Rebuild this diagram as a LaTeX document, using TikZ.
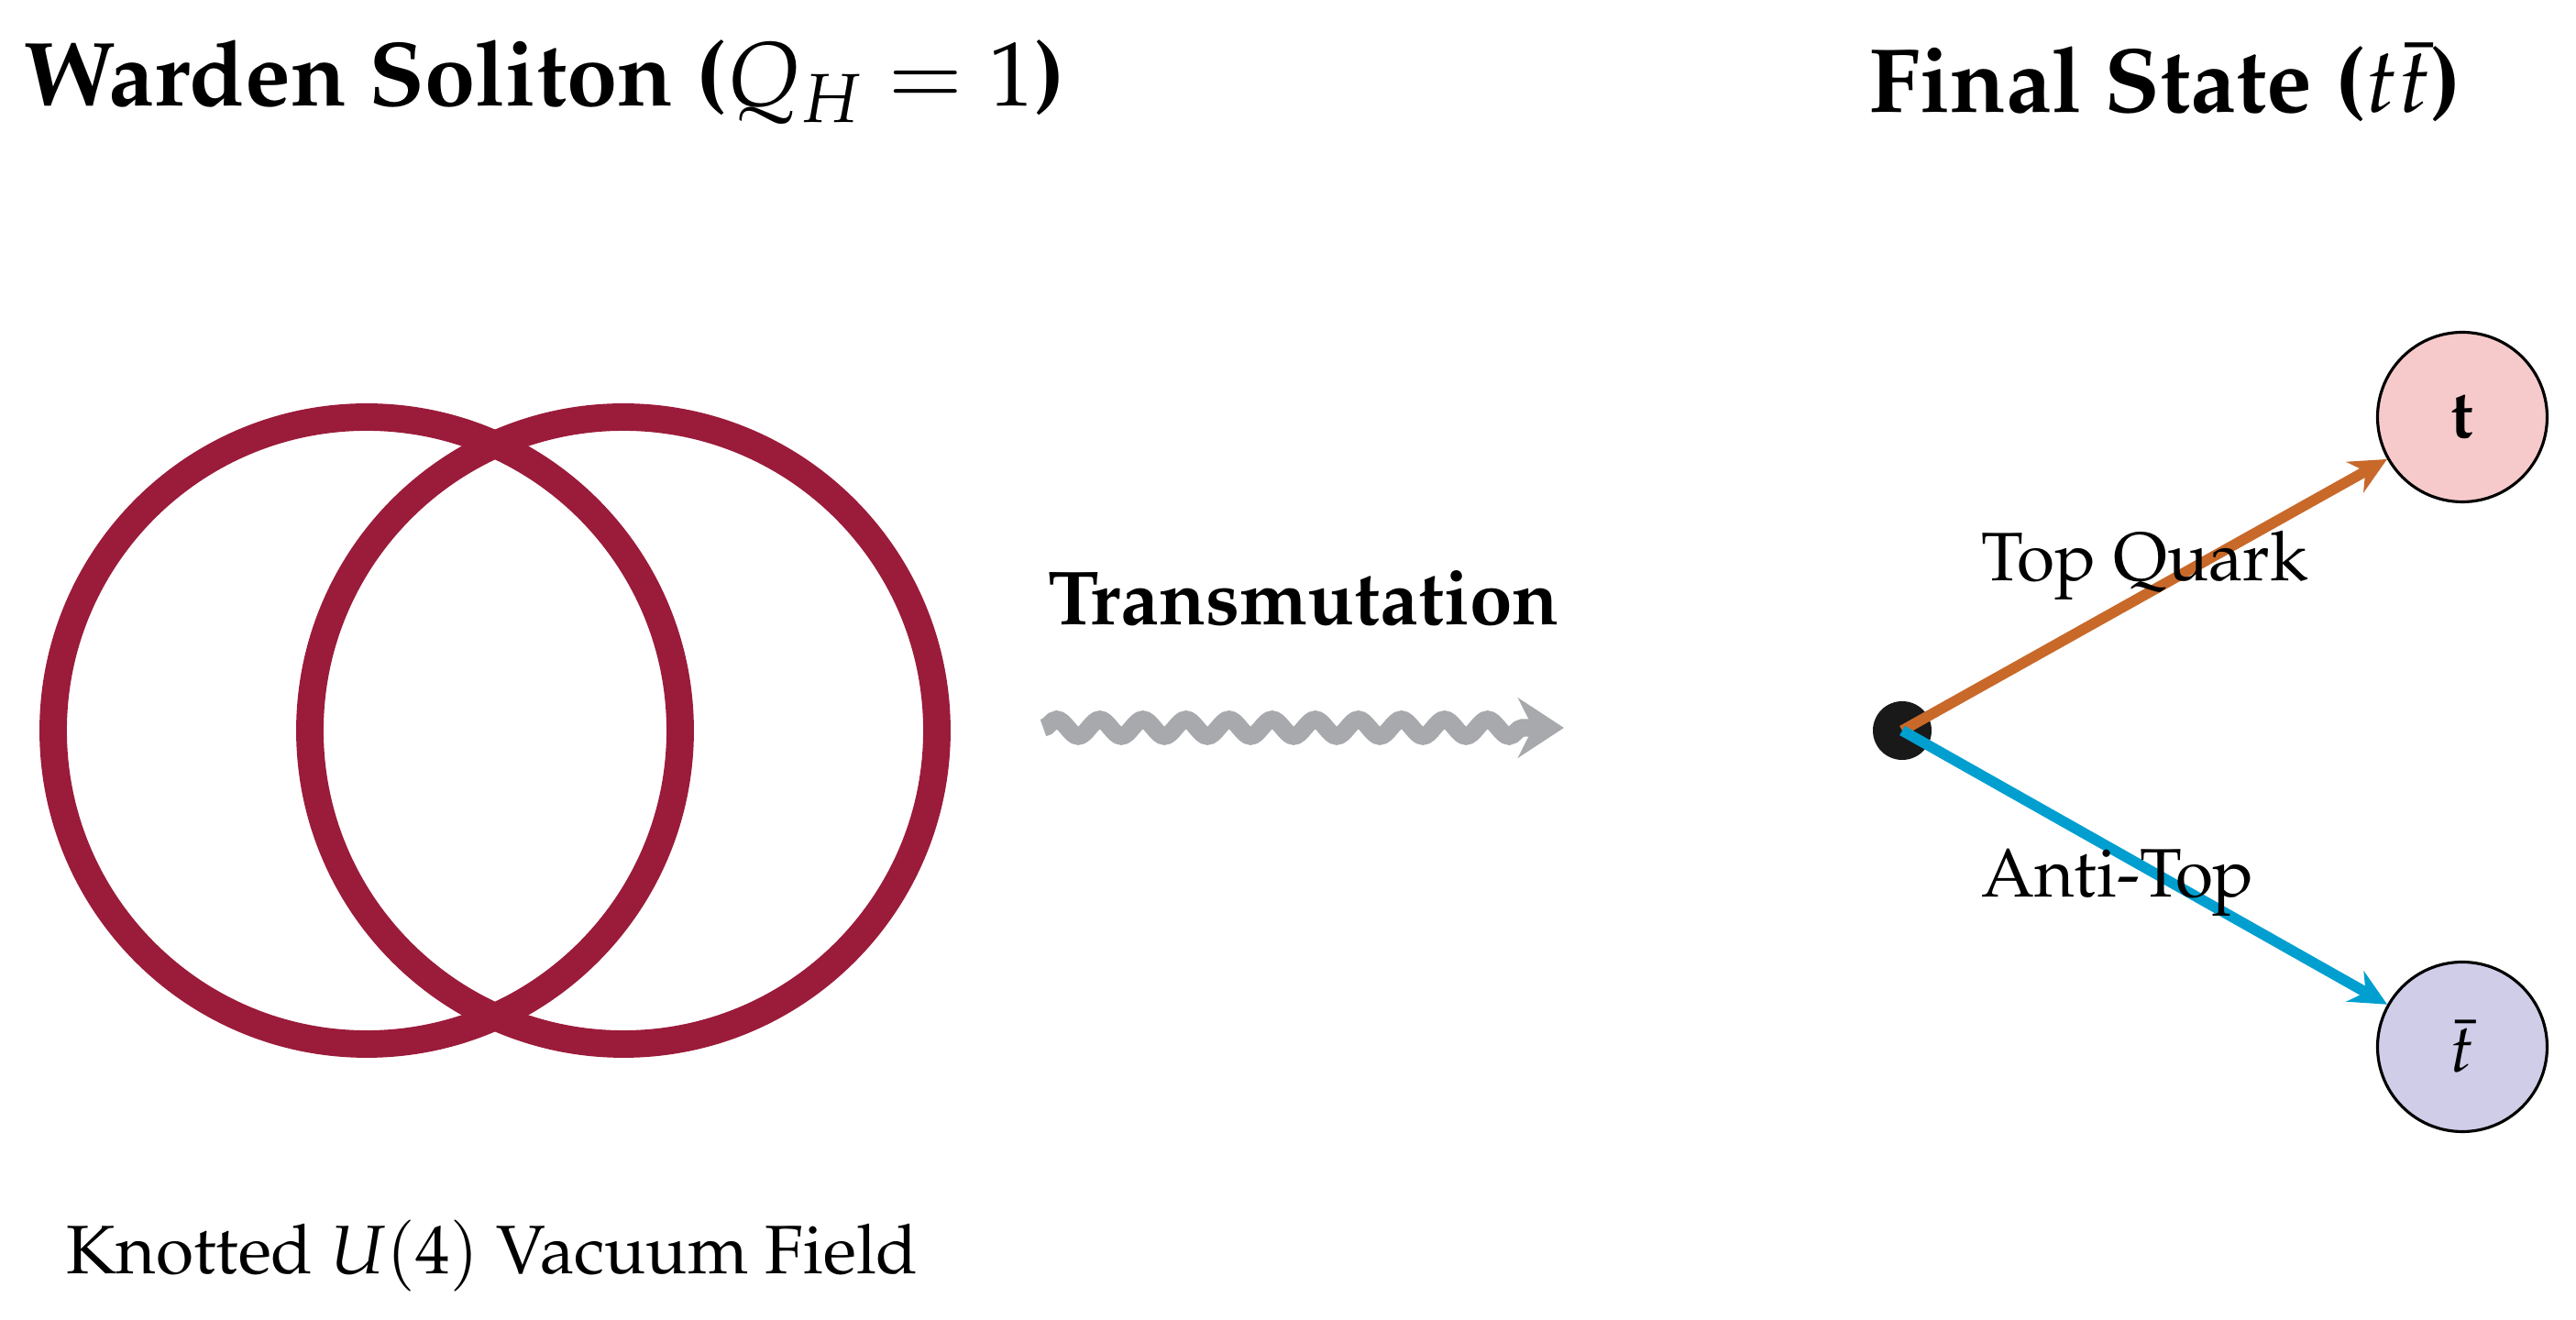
\documentclass[tikz,border=0pt]{standalone}
\usepackage[T1]{fontenc}
\usepackage{amsmath,amssymb}
\usepackage{mathpazo}
\usepackage{tikz}
\usetikzlibrary{decorations.pathmorphing,arrows.meta,positioning}
\definecolor{knotred}{HTML}{9B1B3A}
\definecolor{wavegray}{HTML}{A7A9AC}
\definecolor{toporange}{HTML}{C8692A}
\definecolor{antiblue}{HTML}{009FD0}
\definecolor{toppink}{HTML}{F6CACB}
\definecolor{antilav}{HTML}{CFCDE8}
\tikzset{
  knot/.style={draw=knotred,line width=8.5pt},
  quark/.style={circle,draw=black,line width=0.9pt,minimum size=1.85cm,inner sep=0pt,font=\fontsize{21}{25}\selectfont},
  lbl/.style={font=\fontsize{21.3}{25}\selectfont},
  ttl/.style={font=\fontsize{28.3}{33}\selectfont\bfseries}
}
\begin{document}
\begin{tikzpicture}
\useasboundingbox (0,0) rectangle (28.1,14.4);

% titles
\node[ttl] (tl) at (5.94,13.5) {Warden Soliton ($Q_H=1$)};
\node[ttl] (tr) at (23.62,13.5) {Final State ($t\bar{t}$)};

% knot
\draw[knot] (4.0,6.43) circle(3.42);
\draw[knot] (6.8,6.43) circle(3.42);
\node[lbl] (kn) at (5.37,0.7) {Knotted $U(4)$ Vacuum Field};

%-------------------------------------
\coordinate (ws) at (11.38,6.46);
\coordinate (we) at (17.06,6.46);
\draw[wavegray,line width=5.5pt,-{Stealth[length=0.5cm,width=0.65cm]},
  decorate,decoration={snake,amplitude=0.09cm,segment length=0.47cm,post length=0.3cm}] (ws) -- (we);
\node[font=\fontsize{23.8}{28}\selectfont\bfseries] (tm) at (14.22,7.87) {Transmutation};

%-------------------------------------
\fill[black!90] (20.75,6.43) circle(0.32) coordinate (v);
\node[quark,fill=toppink] (t) at (26.86,9.85) {$\mathbf{t}$};
\node[quark,fill=antilav] (tb) at (26.86,2.98) {$\bar{t}$};
\draw[toporange,line width=3.3pt,-{Stealth[length=0.4cm,width=0.38cm]}] (v) -- (t);
\draw[antiblue,line width=3.3pt,-{Stealth[length=0.4cm,width=0.38cm]}] (v) -- (tb);
\node[lbl] (tq) at (23.4,8.23) {Top Quark};
\node[lbl] (at) at (23.1,4.77) {Anti-Top};
\end{tikzpicture}
\end{document}
